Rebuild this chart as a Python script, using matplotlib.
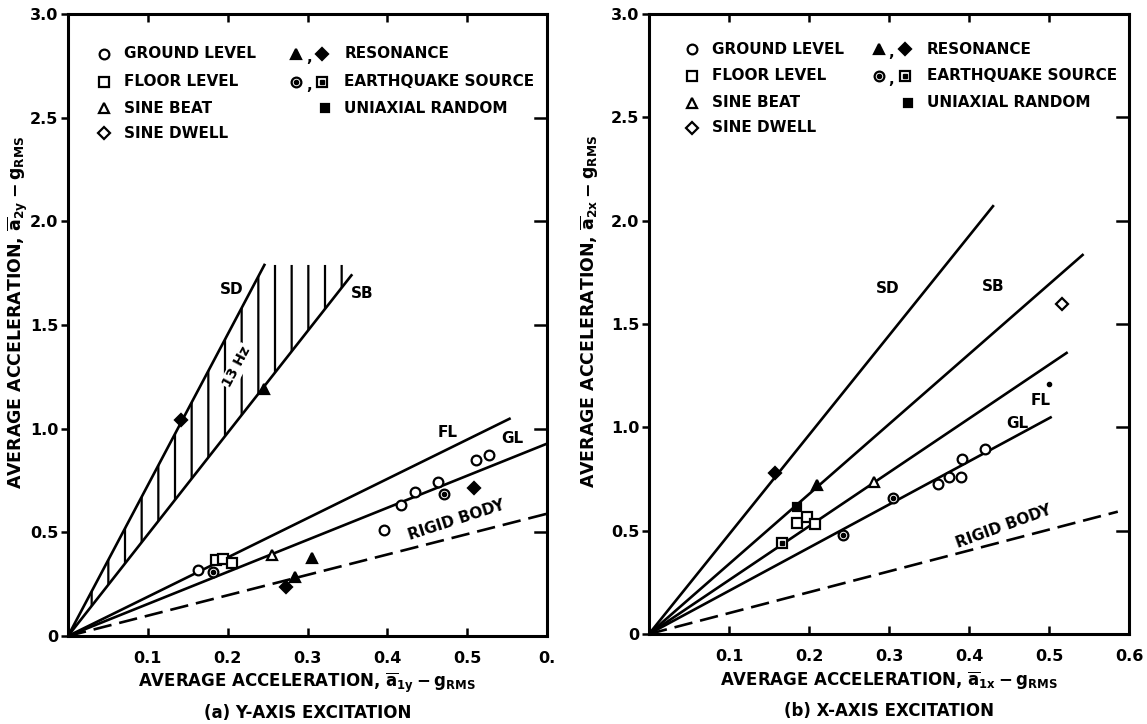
import matplotlib
matplotlib.use('Agg')
import matplotlib.pyplot as plt

plt.rcParams['font.family'] = ['DejaVu Sans']
plt.rcParams['font.weight'] = 'bold'
plt.rcParams['axes.labelweight'] = 'bold'
plt.rcParams['mathtext.fontset'] = 'custom'
plt.rcParams['mathtext.rm'] = 'DejaVu Sans:bold'
plt.rcParams['mathtext.it'] = 'DejaVu Sans:bold'
plt.rcParams['mathtext.bf'] = 'DejaVu Sans:bold'
plt.rcParams['hatch.linewidth'] = 1.6

# ---- (a) Y-axis excitation ----
y_sd_x, y_sd_y = [0, 0.246], [0, 1.79]
y_sb_x, y_sb_y = [0, 0.355], [0, 1.74]
y_fl_x, y_fl_y = [0, 0.553], [0, 1.048]
y_gl_x, y_gl_y = [0, 0.60], [0, 0.928]
y_rb_x, y_rb_y = [0, 0.60], [0, 0.59]
y_hatch_top = 1.79

y_ground_x = [0.163, 0.396, 0.417, 0.435, 0.463, 0.511, 0.527]
y_ground_y = [0.318, 0.510, 0.632, 0.695, 0.743, 0.849, 0.873]
y_floor_x = [0.185, 0.194, 0.205]
y_floor_y = [0.367, 0.370, 0.352]
y_beat_x, y_beat_y = [0.255], [0.390]
y_dwell_x, y_dwell_y = [], []
y_res_tri_x = [0.246, 0.284, 0.306]
y_res_tri_y = [1.190, 0.285, 0.376]
y_res_dia_x = [0.142, 0.273, 0.509]
y_res_dia_y = [1.040, 0.237, 0.714]
y_eq_circ_x = [0.182, 0.471]
y_eq_circ_y = [0.310, 0.685]
y_eq_sq_x, y_eq_sq_y = [], []
y_random_x, y_random_y = [], []

# ---- (b) X-axis excitation ----
x_sd_x, x_sd_y = [0, 0.43], [0, 2.07]
x_sb_x, x_sb_y = [0, 0.542], [0, 1.834]
x_fl_x, x_fl_y = [0, 0.522], [0, 1.36]
x_gl_x, x_gl_y = [0, 0.502], [0, 1.048]
x_rb_x, x_rb_y = [0, 0.586], [0, 0.592]

x_ground_x = [0.361, 0.375, 0.390, 0.391, 0.420]
x_ground_y = [0.728, 0.760, 0.760, 0.845, 0.896]
x_floor_x = [0.185, 0.197, 0.208]
x_floor_y = [0.536, 0.568, 0.533]
x_beat_x, x_beat_y = [0.281], [0.736]
x_dwell_x, x_dwell_y = [0.516], [1.597]
x_res_tri_x, x_res_tri_y = [0.210], [0.720]
x_res_dia_x, x_res_dia_y = [0.157], [0.779]
x_eq_circ_x = [0.242, 0.305]
x_eq_circ_y = [0.480, 0.656]
x_eq_sq_x, x_eq_sq_y = [0.166], [0.440]
x_random_x, x_random_y = [0.185, 0.500], [0.616, 1.210]

x_ticks = [0.1, 0.2, 0.3, 0.4, 0.5, 0.6]
y_ticks = [0, 0.5, 1.0, 1.5, 2.0, 2.5, 3.0]
y_tick_labels = ['0', '0.5', '1.0', '1.5', '2.0', '2.5', '3.0']

LW = 1.9
MS = 7


def markers(ax, gx, gy, fx, fy, bx, by, dx, dy, rtx, rty, rdx, rdy, ecx, ecy, esx, esy, rx, ry):
    kw = dict(ls='none', mec='black', mew=1.6, ms=MS, zorder=5)
    ax.plot(gx, gy, 'o', mfc='white', **kw)
    ax.plot(fx, fy, 's', mfc='white', **kw)
    ax.plot(bx, by, '^', mfc='white', **kw)
    ax.plot(dx, dy, 'D', mfc='white', **dict(kw, ms=MS - 1))
    ax.plot(rtx, rty, '^', mfc='black', **kw)
    ax.plot(rdx, rdy, 'D', mfc='black', **dict(kw, ms=MS - 1))
    ax.plot(ecx, ecy, 'o', mfc='white', **kw)
    ax.plot(ecx, ecy, 'o', mfc='black', mec='black', ms=3, ls='none', zorder=6)
    ax.plot(esx, esy, 's', mfc='white', **kw)
    ax.plot(esx, esy, 's', mfc='black', mec='black', ms=3, ls='none', zorder=6)
    ax.plot(rx, ry, 's', mfc='black', **dict(kw, ms=MS - 1))


def legend(ax, x1, x2, rows):
    fs = 11
    mk = dict(ls='none', mec='black', mew=1.6, ms=MS, clip_on=False)
    ax.plot([x1], [rows[0]], 'o', mfc='white', **mk)
    ax.plot([x1], [rows[1]], 's', mfc='white', **mk)
    ax.plot([x1], [rows[2]], '^', mfc='white', **mk)
    ax.plot([x1], [rows[3]], 'D', mfc='white', **dict(mk, ms=MS - 1))
    for r, t in zip(rows, ['GROUND LEVEL', 'FLOOR LEVEL', 'SINE BEAT', 'SINE DWELL']):
        ax.text(x1 + 0.025, r, t, fontsize=fs, va='center', ha='left')
    ax.plot([x2], [rows[0]], '^', mfc='black', **mk)
    ax.plot([x2 + 0.032], [rows[0]], 'D', mfc='black', **dict(mk, ms=MS - 1))
    ax.text(x2 + 0.012, rows[0] - 0.04, ',', fontsize=fs, va='baseline')
    ax.plot([x2], [rows[1]], 'o', mfc='white', **mk)
    ax.plot([x2], [rows[1]], 'o', mfc='black', mec='black', ms=3, ls='none')
    ax.plot([x2 + 0.032], [rows[1]], 's', mfc='white', **mk)
    ax.plot([x2 + 0.032], [rows[1]], 's', mfc='black', mec='black', ms=3, ls='none')
    ax.text(x2 + 0.012, rows[1] - 0.04, ',', fontsize=fs, va='baseline')
    ax.plot([x2 + 0.036], [rows[2]], 's', mfc='black', **dict(mk, ms=MS - 1))
    for r, t in zip(rows[:3], ['RESONANCE', 'EARTHQUAKE SOURCE', 'UNIAXIAL RANDOM']):
        ax.text(x2 + 0.060, r, t, fontsize=fs, va='center', ha='left')


def frame(ax, last_label, xlabel, ylabel, title, ylab_x):
    ax.set_xlim(0, 0.6)
    ax.set_ylim(0, 3.0)
    ax.set_xticks(x_ticks)
    ax.set_xticklabels(['0.1', '0.2', '0.3', '0.4', '0.5', last_label])
    ax.set_yticks(y_ticks)
    ax.set_yticklabels(y_tick_labels)
    ax.tick_params(axis='x', direction='in', top=True, length=6, width=1.8,
                   labelsize=11.5, pad=11)
    ax.tick_params(axis='y', direction='out', right=False, length=5, width=1.8,
                   labelsize=11.5, pad=2)
    for yt in y_ticks[1:-1]:
        ax.plot([0.6, 0.585], [yt, yt], color='black', lw=1.8, clip_on=False)
    for s in ax.spines.values():
        s.set_linewidth(2.2)
    ax.text(0.5, -0.076, xlabel, transform=ax.transAxes, ha='center', va='center',
            fontsize=12)
    ax.text(0.5, -0.124, title, transform=ax.transAxes, ha='center', va='center',
            fontsize=12)
    ax.text(ylab_x, 0.52, ylabel, transform=ax.transAxes, ha='center', va='center',
            rotation=90, fontsize=12.5)


fig = plt.figure(figsize=(11.47, 7.24), dpi=100)
ax1 = fig.add_axes([0.0593, 0.1215, 0.4176, 0.859])
ax2 = fig.add_axes([0.5658, 0.1243, 0.4185, 0.8564])

# ---- left panel ----
ax = ax1
ax.fill([y_sd_x[0], y_sd_x[1], y_sb_x[1], y_sb_x[1]],
        [y_sd_y[0], y_hatch_top, y_hatch_top, y_sb_y[1]],
        facecolor='none', edgecolor='black', hatch='|', linewidth=0)
ax.plot(y_sd_x, y_sd_y, color='black', lw=LW)
ax.plot(y_sb_x, y_sb_y, color='black', lw=LW)
ax.plot(y_fl_x, y_fl_y, color='black', lw=LW)
ax.plot(y_gl_x, y_gl_y, color='black', lw=LW)
ax.plot(y_rb_x, y_rb_y, color='black', lw=LW, dashes=(7, 3))
markers(ax, y_ground_x, y_ground_y, y_floor_x, y_floor_y, y_beat_x, y_beat_y,
        y_dwell_x, y_dwell_y, y_res_tri_x, y_res_tri_y, y_res_dia_x, y_res_dia_y,
        y_eq_circ_x, y_eq_circ_y, y_eq_sq_x, y_eq_sq_y, y_random_x, y_random_y)
ax.text(0.205, 1.67, 'SD', fontsize=11, ha='center', va='center')
ax.text(0.369, 1.65, 'SB', fontsize=11, ha='center', va='center')
ax.text(0.475, 0.984, 'FL', fontsize=11, ha='center', va='center')
ax.text(0.556, 0.955, 'GL', fontsize=11, ha='center', va='center')
ax.text(0.486, 0.56, 'RIGID BODY', fontsize=11, ha='center', va='center', rotation=18)
ax.text(0.212, 1.30, '13 Hz', fontsize=10, ha='center', va='center', rotation=62,
        bbox=dict(facecolor='white', edgecolor='none', pad=1))
legend(ax, 0.045, 0.286, [2.81, 2.674, 2.545, 2.425])
frame(ax, '0.',
      r'AVERAGE ACCELERATION, $\overline{\mathrm{a}}_{\mathrm{1y}}-\mathrm{g}_{\mathrm{RMS}}$',
      r'AVERAGE ACCELERATION, $\overline{\mathrm{a}}_{\mathrm{2y}}-\mathrm{g}_{\mathrm{RMS}}$',
      '(a) Y-AXIS EXCITATION', -0.104)

# ---- right panel ----
ax = ax2
ax.plot(x_sd_x, x_sd_y, color='black', lw=LW)
ax.plot(x_sb_x, x_sb_y, color='black', lw=LW)
ax.plot(x_fl_x, x_fl_y, color='black', lw=LW)
ax.plot(x_gl_x, x_gl_y, color='black', lw=LW)
ax.plot(x_rb_x, x_rb_y, color='black', lw=LW, dashes=(7, 3))
markers(ax, x_ground_x, x_ground_y, x_floor_x, x_floor_y, x_beat_x, x_beat_y,
        x_dwell_x, x_dwell_y, x_res_tri_x, x_res_tri_y, x_res_dia_x, x_res_dia_y,
        x_eq_circ_x, x_eq_circ_y, x_eq_sq_x, x_eq_sq_y, x_random_x[:1], x_random_y[:1])
ax.plot(x_random_x[1:], x_random_y[1:], 'o', color='black', ms=3)
ax.text(0.298, 1.674, 'SD', fontsize=11, ha='center', va='center')
ax.text(0.43, 1.68, 'SB', fontsize=11, ha='center', va='center')
ax.text(0.489, 1.13, 'FL', fontsize=11, ha='center', va='center')
ax.text(0.46, 1.02, 'GL', fontsize=11, ha='center', va='center')
ax.text(0.443, 0.52, 'RIGID BODY', fontsize=11, ha='center', va='center', rotation=20)
legend(ax, 0.054, 0.2875, [2.83, 2.70, 2.57, 2.45])
frame(ax, '0.6',
      r'AVERAGE ACCELERATION, $\overline{\mathrm{a}}_{\mathrm{1x}}-\mathrm{g}_{\mathrm{RMS}}$',
      r'AVERAGE ACCELERATION, $\overline{\mathrm{a}}_{\mathrm{2x}}-\mathrm{g}_{\mathrm{RMS}}$',
      '(b) X-AXIS EXCITATION', -0.123)

fig.savefig('out.png', dpi=100)
